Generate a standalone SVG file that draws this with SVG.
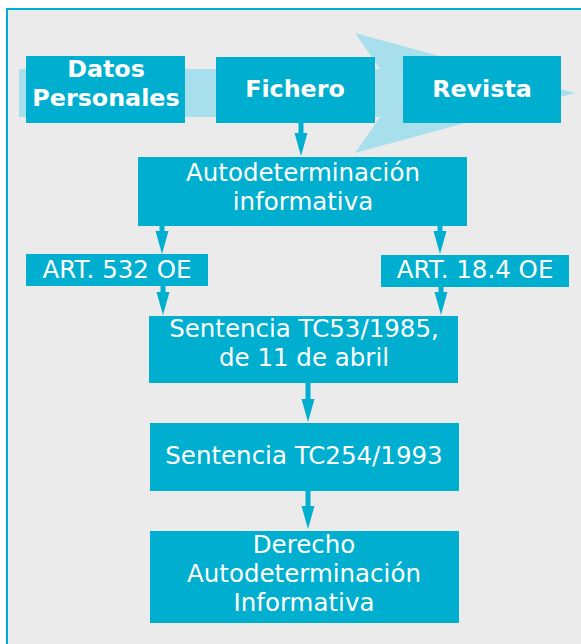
<svg xmlns="http://www.w3.org/2000/svg" width="581" height="644" viewBox="0 0 581 644">
<defs>
<style>
.box{fill:#00afd0}
.t{font-family:"DejaVu Sans","Verdana",sans-serif;font-size:24.5px;fill:#ffffff;text-anchor:middle}
.b{font-weight:bold;font-size:23.8px}
.c{stroke:#00afd0;stroke-width:5;fill:none}
</style>
<marker id="ah" markerUnits="userSpaceOnUse" markerWidth="24" markerHeight="14" refX="1" refY="6.5" orient="auto" viewBox="0 0 24 13">
<path d="M0,0 L23,6.5 L0,13 Z" fill="#00afd0"/>
</marker>
</defs>
<rect x="0" y="0" width="581" height="644" fill="#ffffff"/>
<rect x="7" y="9" width="590" height="650" fill="#ebebeb" stroke="#00afd0" stroke-width="2"/>
<polygon id="flow-arrow" points="19,69 380,69 355,33 575,93 355,153 380,117 19,117" fill="#a8dfec"/>
<g id="connectors">
<line class="c" x1="301" y1="123" x2="301" y2="134" marker-end="url(#ah)"/>
<line class="c" x1="162" y1="226" x2="162" y2="232" marker-end="url(#ah)"/>
<line class="c" x1="440" y1="226" x2="440" y2="232" marker-end="url(#ah)"/>
<line class="c" x1="163" y1="286" x2="163" y2="293" marker-end="url(#ah)"/>
<line class="c" x1="441" y1="287" x2="441" y2="293" marker-end="url(#ah)"/>
<line class="c" x1="308" y1="383" x2="308" y2="400" marker-end="url(#ah)"/>
<line class="c" x1="308" y1="491" x2="308" y2="507" marker-end="url(#ah)"/>
</g>
<g id="datos">
<rect class="box" x="26" y="56" width="159" height="67"/>
<text class="t b" x="106" y="77">Datos</text>
<text class="t b" x="106" y="106">Personales</text>
</g>
<g id="fichero">
<rect class="box" x="216" y="57" width="159" height="66"/>
<text class="t b" x="295" y="97">Fichero</text>
</g>
<g id="revista">
<rect class="box" x="403" y="56" width="158" height="67"/>
<text class="t b" x="482" y="97">Revista</text>
</g>
<g id="autodet">
<rect class="box" x="138" y="157" width="329" height="69"/>
<text class="t" x="303" y="181">Autodeterminación</text>
<text class="t" x="303" y="210">informativa</text>
</g>
<g id="art532">
<rect class="box" x="26" y="254" width="182" height="32"/>
<text class="t" x="117" y="278">ART. 532 OE</text>
</g>
<g id="art184">
<rect class="box" x="381" y="255" width="188" height="32"/>
<text class="t" x="475" y="278">ART. 18.4 OE</text>
</g>
<g id="tc53">
<rect class="box" x="149" y="316" width="309" height="67"/>
<text class="t" x="304" y="337">Sentencia TC53/1985,</text>
<text class="t" x="304" y="366">de 11 de abril</text>
</g>
<g id="tc254">
<rect class="box" x="150" y="423" width="309" height="68"/>
<text class="t" x="304" y="464">Sentencia TC254/1993</text>
</g>
<g id="derecho">
<rect class="box" x="150" y="531" width="309" height="92"/>
<text class="t" x="304" y="553">Derecho</text>
<text class="t" x="304" y="582">Autodeterminación</text>
<text class="t" x="304" y="611">Informativa</text>
</g>
</svg>
